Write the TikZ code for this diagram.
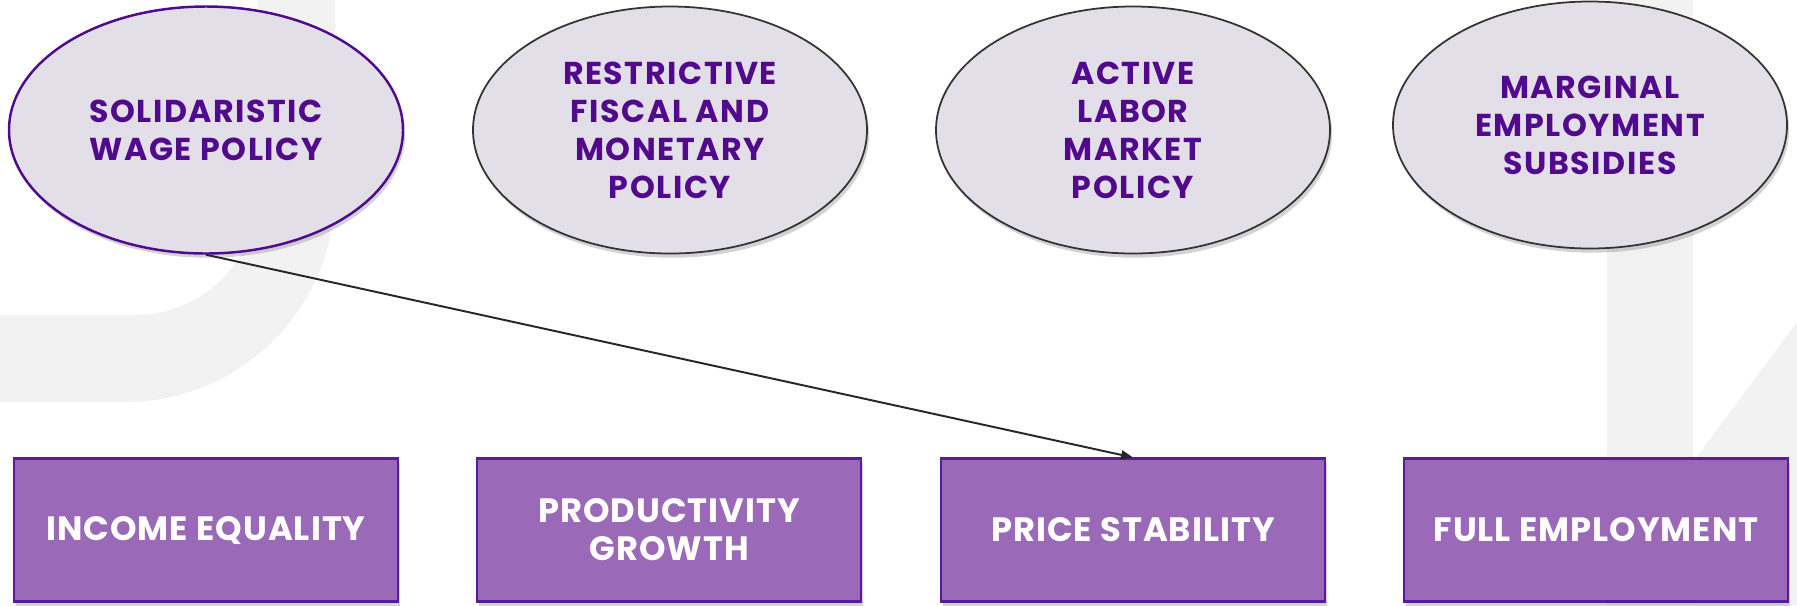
\documentclass[tikz,border=0pt]{standalone}
\usepackage{fontspec}
\setmainfont{Poppins}
\newfontfamily\ovalfont[LetterSpace=5]{Poppins}
\newfontfamily\boxfont[LetterSpace=3]{Poppins}
\usetikzlibrary{shapes.geometric,shadows,arrows.meta}
\definecolor{ovalfill}{HTML}{E2DFE9}
\definecolor{deeppurple}{HTML}{520A8C}
\definecolor{boxfill}{HTML}{9A6AB8}
\definecolor{boxline}{HTML}{5A1A9A}
\definecolor{watergray}{HTML}{F2F2F2}
\tikzset{
  policy/.style={draw=black!80, fill=ovalfill, ellipse, line width=0.5pt,
    minimum width=39.4mm, minimum height=24.7mm, inner sep=0pt, align=center,
    text=deeppurple, font=\ovalfont\fontsize{9}{10.8}\selectfont\bfseries,
    drop shadow={shadow xshift=0.6pt, shadow yshift=-1.2pt, opacity=0.35}},
  goal/.style={draw=boxline, fill=boxfill, rectangle, line width=0.6pt,
    minimum width=38.4mm, minimum height=14.3mm, inner sep=0pt, align=center,
    text=white, font=\boxfont\fontsize{9.6}{10.8}\selectfont\bfseries,
    drop shadow={shadow xshift=0.6pt, shadow yshift=-1.2pt, opacity=0.35}}
}
\begin{document}
\begin{tikzpicture}[x=0.1mm, y=-0.1mm]
\useasboundingbox (0,0) rectangle (1797,605);
% background marks
\fill[watergray] (335,0) -- (335,192) arc[start angle=0, end angle=-90, radius=21mm]
  -- (0,402) -- (0,315) -- (135,315) arc[start angle=-90, end angle=0, radius=12.3mm]
  -- (258,0) -- cycle;
\fill[watergray] (1607,0) rectangle (1693,605);
\fill[watergray] (1693,462) -- (1797,322) -- (1797,605) -- (1693,605) -- cycle;

\node[policy, draw=deeppurple, line width=0.7pt] (p1) at (206,130) {SOLIDARISTIC\\WAGE POLICY};
\node[policy] (p2) at (670,130) {RESTRICTIVE\\FISCAL AND\\MONETARY\\POLICY};
\node[policy] (p3) at (1133,130) {ACTIVE\\LABOR\\MARKET\\POLICY};
\node[policy] (p4) at (1590,125) {MARGINAL\\EMPLOYMENT\\SUBSIDIES};

\node[goal] (g1) at (206,530) {INCOME EQUALITY};
\node[goal] (g2) at (669,530) {PRODUCTIVITY\\GROWTH};
\node[goal] (g3) at (1133,530) {PRICE STABILITY};
\node[goal] (g4) at (1596,530) {FULL EMPLOYMENT};

\path[draw, black!85, line width=0.55pt, -{Triangle[length=3.4pt, width=2.6pt]}] (p1.south) -- (g3.north);
\end{tikzpicture}
\end{document}
